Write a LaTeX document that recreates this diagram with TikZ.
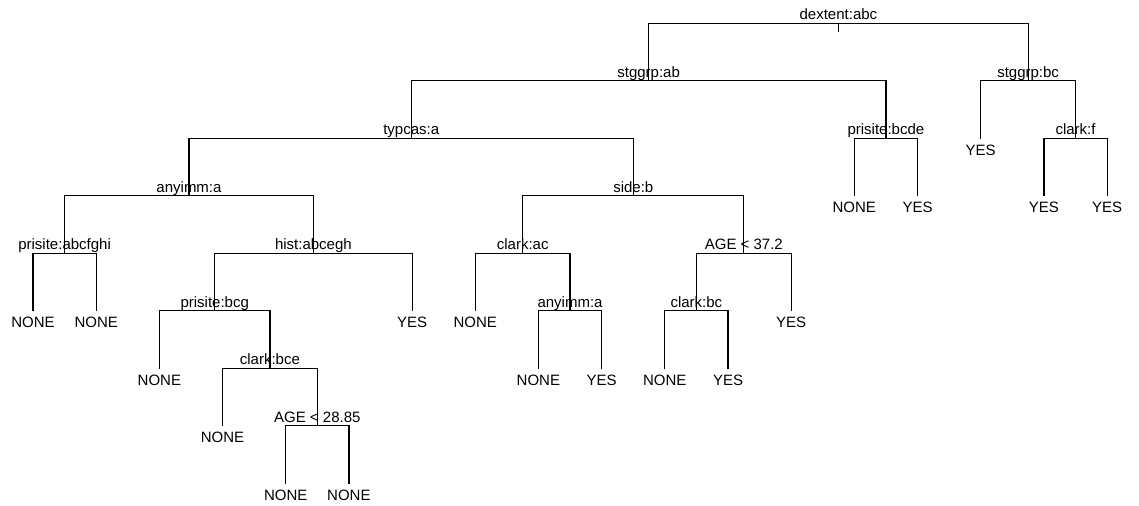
\documentclass[tikz,border=0pt]{standalone}
\usepackage{fontspec}
\setmainfont{Liberation Sans}
\usepackage{tikz}

\tikzset{
    split/.style={anchor=base, inner sep=0pt, yshift=1.75pt},
    leaf/.style={anchor=base, inner sep=0pt, yshift=-8.5pt},
    branch/.style={line width=0.6pt, line cap=rect}
}

\begin{document}
\begin{tikzpicture}[x=0.5pt, y=-0.5pt, font=\fontsize{7.5}{9}\selectfont]
    \useasboundingbox (0,0) rectangle (1139,506);

    % splits
    \coordinate (dextent) at (838.4,23.3);
    \coordinate (stggrpab) at (648.6,80.8);
    \coordinate (stggrpbc) at (1028.1,80.8);
    \coordinate (typcas) at (411.2,138.3);
    \coordinate (prisitebcde) at (885.9,138.3);
    \coordinate (clarkf) at (1075.5,138.3);
    \coordinate (anyimmA) at (189.0,195.8);
    \coordinate (side) at (633.3,195.8);
    \coordinate (prisiteabc) at (64.6,253.3);
    \coordinate (hist) at (313.4,253.3);
    \coordinate (clarkac) at (522.7,253.3);
    \coordinate (ageB) at (743.8,253.3);
    \coordinate (prisitebcg) at (214.7,310.8);
    \coordinate (anyimmB) at (570.0,310.8);
    \coordinate (clarkbc) at (696.4,310.8);
    \coordinate (clarkbce) at (269.9,368.3);
    \coordinate (ageA) at (317.3,425.8);

    \node[split] (dextent-t) at (dextent) {dextent:abc};
    \node[split] (stggrpab-t) at (stggrpab) {stggrp:ab};
    \node[split] (stggrpbc-t) at (stggrpbc) {stggrp:bc};
    \node[split] (typcas-t) at (typcas) {typcas:a};
    \node[split] (prisitebcde-t) at (prisitebcde) {prisite:bcde};
    \node[split] (clarkf-t) at (clarkf) {clark:f};
    \node[split] (anyimmA-t) at (anyimmA) {anyimm:a};
    \node[split] (side-t) at (side) {side:b};
    \node[split] (prisiteabc-t) at (prisiteabc) {prisite:abcfghi};
    \node[split] (hist-t) at (hist) {hist:abcegh};
    \node[split] (clarkac-t) at (clarkac) {clark:ac};
    \node[split] (ageB-t) at (ageB) {AGE < 37.2};
    \node[split] (prisitebcg-t) at (prisitebcg) {prisite:bcg};
    \node[split] (anyimmB-t) at (anyimmB) {anyimm:a};
    \node[split] (clarkbc-t) at (clarkbc) {clark:bc};
    \node[split] (clarkbce-t) at (clarkbce) {clark:bce};
    \node[split] (ageA-t) at (ageA) {AGE < 28.85};

    % leaves
    \foreach \n/\x/\y/\t in {l0/33.0/310.8/NONE, l1/96.2/310.8/NONE, l2/159.4/368.3/NONE,
        l3/222.5/425.8/NONE, l4/285.7/483.3/NONE, l5/348.9/483.3/NONE, l6/412.1/310.8/YES,
        l7/475.3/310.8/NONE, l8/538.4/368.3/NONE, l9/601.6/368.3/YES, l10/664.8/368.3/NONE,
        l11/728.0/368.3/YES, l12/791.2/310.8/YES, l13/854.3/195.8/NONE, l14/917.5/195.8/YES,
        l15/980.7/138.3/YES, l16/1043.9/195.8/YES, l17/1107.1/195.8/YES}{
        \coordinate (\n) at (\x,\y);
        \node[leaf] (\n-t) at (\n) {\t};
    }

    % branches
    \coordinate (tick) at (838.4,31.7);
    \draw[branch] (dextent) -- (tick);
    \foreach \p/\c in {dextent/stggrpab, dextent/stggrpbc, stggrpab/typcas, stggrpab/prisitebcde,
        stggrpbc/l15, stggrpbc/clarkf, typcas/anyimmA, typcas/side, prisitebcde/l13, prisitebcde/l14,
        clarkf/l16, clarkf/l17, anyimmA/prisiteabc, anyimmA/hist, side/clarkac, side/ageB,
        prisiteabc/l0, prisiteabc/l1, hist/prisitebcg, hist/l6, clarkac/l7, clarkac/anyimmB,
        ageB/clarkbc, ageB/l12, prisitebcg/l2, prisitebcg/clarkbce, anyimmB/l8, anyimmB/l9,
        clarkbc/l10, clarkbc/l11, clarkbce/l3, clarkbce/ageA, ageA/l4, ageA/l5}{
        \draw[branch] (\p) -| (\c);
    }
\end{tikzpicture}
\end{document}
